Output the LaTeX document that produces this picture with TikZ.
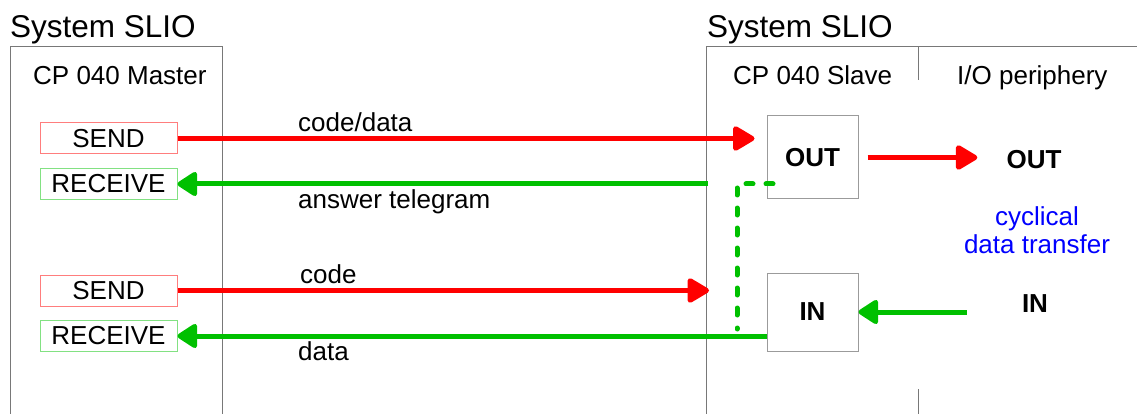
\documentclass[tikz,border=0pt]{standalone}
\usepackage{fontspec}
\setmainfont{Liberation Sans}
\usetikzlibrary{arrows.meta,positioning}
\definecolor{framegray}{RGB}{120,120,120}
\definecolor{boxgray}{RGB}{155,155,155}
\definecolor{sendred}{RGB}{255,0,0}
\definecolor{sendedge}{RGB}{255,125,125}
\definecolor{recvgreen}{RGB}{0,192,0}
\definecolor{recvedge}{RGB}{130,225,130}
\definecolor{cyclblue}{RGB}{0,0,255}

\begin{document}
\begin{tikzpicture}[
    x=1pt,y=-1pt,
    font=\fontsize{26}{28}\selectfont,
    frame/.style={draw=framegray,line width=1pt},
    sysname/.style={font=\fontsize{31.5}{36}\selectfont,inner sep=0pt,anchor=base west},
    colname/.style={inner sep=0pt,anchor=base west},
    sendbox/.style={draw=sendedge,line width=1pt,minimum width=137pt,
      minimum height=31pt,inner sep=0pt},
    recvbox/.style={draw=recvedge,line width=1pt,minimum width=137pt,
      minimum height=31pt,inner sep=0pt},
    iobox/.style={draw=boxgray,line width=1pt,inner sep=0pt,minimum width=91pt,
      font=\fontsize{26}{28}\selectfont\bfseries},
    port/.style={inner sep=0pt,font=\fontsize{26}{28}\selectfont\bfseries},
    sendline/.style={draw=sendred,line width=5pt,
      -{Triangle[length=24pt,width=27pt,round]}},
    recvline/.style={draw=recvgreen,line width=5pt,
      -{Triangle[length=22pt,width=27pt,round]}},
    fbline/.style={draw=recvgreen,line width=5pt,line cap=round,
      dash pattern=on 7pt off 13pt},
    msg/.style={inner sep=0pt,anchor=base west},
  ]

  \useasboundingbox (0,0) rectangle (1137,414);

  % frames of the two systems
  \draw[frame] (10,414) -- (10,47) -- (222,47) -- (222,414);
  \draw[frame] (706,414) -- (706,47) -- (1137,47);
  \draw[frame] (918,47) -- (918,80);
  \draw[frame] (918,389) -- (918,414);

  \node[sysname] (sysmaster) at (10,38) {System SLIO};
  \node[sysname] (sysslave) at (707,38) {System SLIO};
  \node[colname] (master) at (33,85) {CP 040 Master};
  \node[colname] (slave) at (733,85) {CP 040 Slave};
  \node[colname] (periph) at (957,85) {I/O periphery};

  % master side
  \foreach \k/\ys/\yr in {1/138.5/184, 2/290.5/336} {
    \node[sendbox] (send\k) at (108.5,\ys) {SEND};
    \node[recvbox] (recv\k) at (108.5,\yr) {RECEIVE};
  }

  % slave side
  \node[iobox,minimum height=83pt] (outbox) at (812.5,157.5) {OUT};
  \node[iobox,minimum height=78pt] (inbox) at (812.5,312) {IN};

  \node[port] (outport) at (1034,160) {OUT};
  \node[port] (inport) at (1035,304) {IN};
  \node[text=cyclblue,align=center,inner sep=0pt] (cyclic) at (1037,230)
    {cyclical\\data transfer};

  \coordinate (codeend) at (709,290.5);
  \coordinate (answerstart) at (708,184);
  \coordinate (fbstart) at (773,184);
  \coordinate (fbcorner) at (737,184);
  \coordinate (fbend) at (737,329);

  \draw[sendline] (send1.east) -- ([xshift=-12pt]outbox.west |- send1.east);
  \draw[recvline] (answerstart) -- (recv1.east);
  \draw[sendline] (send2.east) -- (codeend);
  \draw[recvline] (inbox.west |- recv2.east) -- (recv2.east);
  \draw[fbline] (fbstart) -- (fbcorner) -- (fbend);

  \draw[sendline] ([xshift=9pt]outbox.east) -- ([xshift=-29pt]outport.west |- outbox.east);
  \draw[recvline] ([xshift=-55pt]inport.west |- inbox.east) -- (inbox.east);

  \node[msg] (lblcodedata) at (298,132) {code/data};
  \node[msg] (lblanswer) at (298,208) {answer telegram};
  \node[msg] (lblcode) at (300,283) {code};
  \node[msg] (lbldata) at (298,360) {data};

\end{tikzpicture}
\end{document}
